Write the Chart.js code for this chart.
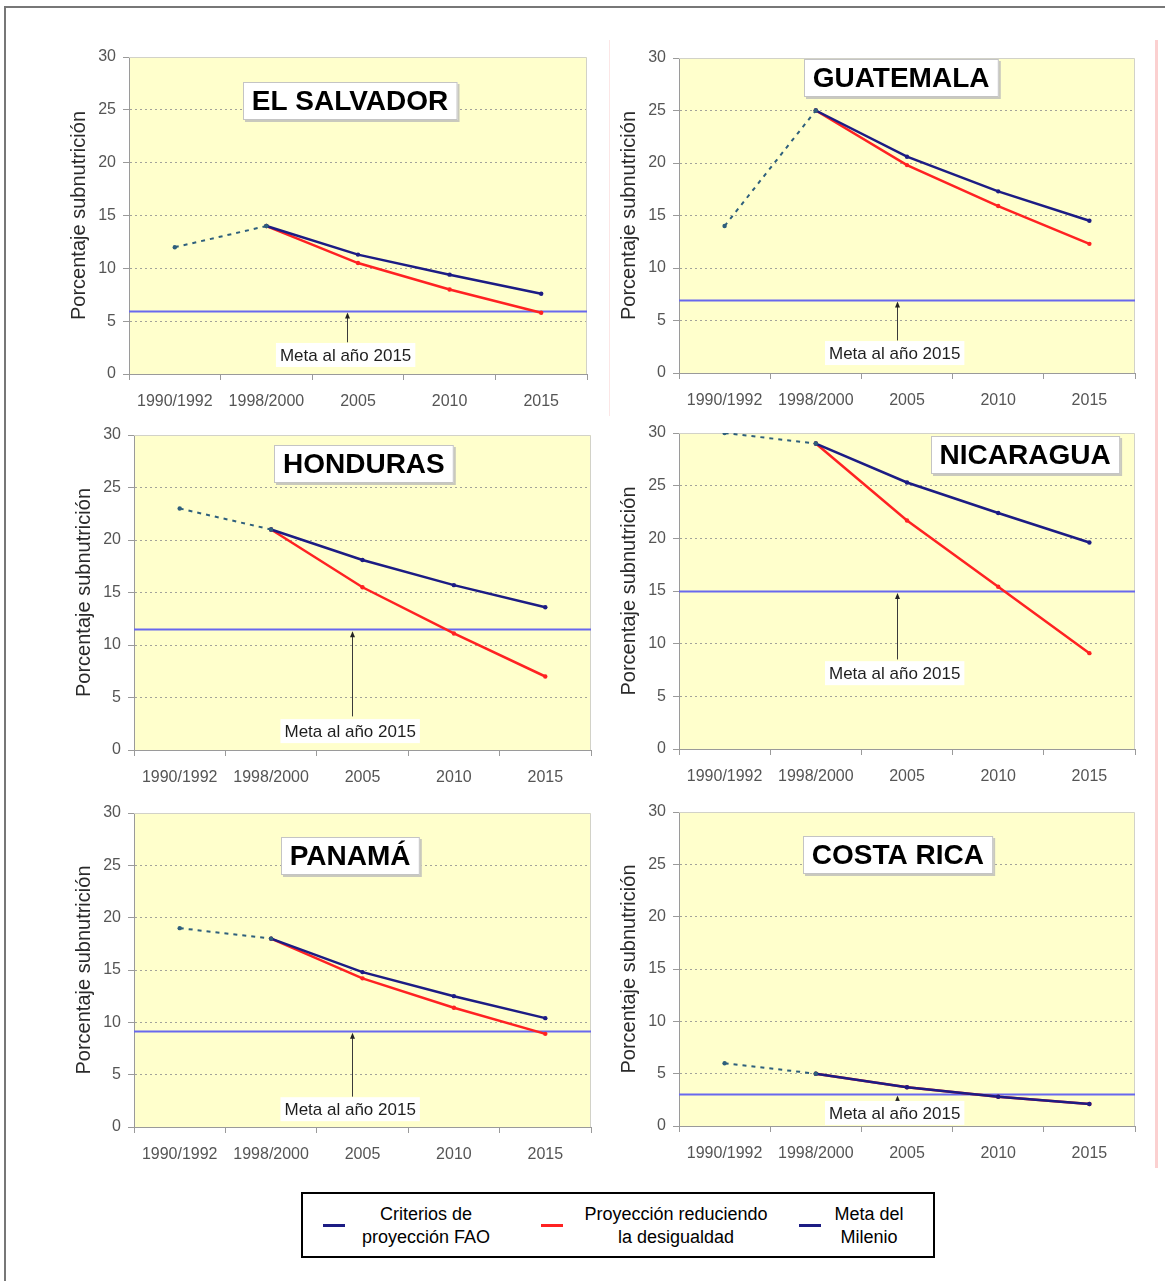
<!DOCTYPE html>
<html>
<head>
<meta charset="utf-8">
<title>Subnutrición en Centroamérica</title>
<script src="https://cdn.jsdelivr.net/npm/chart.js@4.4.1/dist/chart.umd.min.js"></script>
<style>
  html, body { margin: 0; padding: 0; background: #fff; width: 1165px; height: 1281px; overflow: hidden; }
  #frame { position: absolute; left: 4px; top: 6px; width: 1400px; height: 1500px; border: 2px solid #777; box-sizing: border-box; }
  #pinkRule { position: absolute; left: 1155px; top: 40px; width: 3px; height: 1128px; background: #fbd0d0; }
  #pinkRule2 { position: absolute; left: 609px; top: 40px; width: 1px; height: 376px; background: #fbe6e6; }
  .panel { position: absolute; }
  .panel canvas { display: block; }
  #legend { position: absolute; left: 301px; top: 1192px; width: 634px; height: 66px; border: 2px solid #000; box-sizing: border-box; background: #fff;
            font-family: "Liberation Sans", Arial, sans-serif; font-size: 18px; color: #000; }
  #legend .sw { position: absolute; top: 30px; width: 22px; height: 3px; }
  #legend .lt { position: absolute; top: 9px; width: 200px; text-align: center; line-height: 23px; }
</style>
</head>
<body>
<div id="frame"></div>
<div id="pinkRule"></div>
<div id="pinkRule2"></div>
<div id="panels"></div>
<div id="legend"></div>

<script>
// ---- data -------------------------------------------------------------
const categories = ['1990/1992', '1998/2000', '2005', '2010', '2015'];
const yTicks = [0, 5, 10, 15, 20, 25, 30];
const countries = ['EL SALVADOR', 'GUATEMALA', 'HONDURAS', 'NICARAGUA', 'PANAMÁ', 'COSTA RICA'];

// observed prevalence 1990/1992 -> 1998/2000 (dotted segment)
const observed = [
  [12, 14, null, null, null],
  [14, 25, null, null, null],
  [23, 21, null, null, null],
  [30, 29, null, null, null],
  [19, 18, null, null, null],
  [6, 5, null, null, null]
];
// projection with FAO criteria
const faoProjection = [
  [null, 14, 11.3, 9.4, 7.6],
  [null, 25, 20.6, 17.3, 14.5],
  [null, 21, 18.1, 15.7, 13.6],
  [null, 29, 25.3, 22.4, 19.6],
  [null, 18, 14.8, 12.5, 10.4],
  [null, 5, 3.7, 2.8, 2.1]
];
// projection reducing inequality
const equityProjection = [
  [null, 14, 10.5, 8.0, 5.8],
  [null, 25, 19.8, 15.9, 12.3],
  [null, 21, 15.5, 11.1, 7.0],
  [null, 29, 21.7, 15.4, 9.1],
  [null, 18, 14.2, 11.4, 8.9],
  [null, 5, 3.7, 2.8, 2.1]
];
// Millennium goal for 2015
const milleniumGoal = [6, 7, 11.5, 15, 9.2, 3.1];

const legendLabels = ['Criterios de<br>proyección FAO', 'Proyección reduciendo<br>la desigualdad', 'Meta del<br>Milenio'];
const yAxisTitle = 'Porcentaje subnutrición';
const goalLabel = 'Meta al año 2015';

// ---- layout -----------------------------------------------------------
// plot rectangles (left, top, right, bottom) of the six panels
const plotRects = [
  [129, 57, 587, 374],
  [679, 58, 1135, 373],
  [134, 435, 591, 750],
  [679, 433, 1135, 749],
  [134, 813, 591, 1127],
  [679, 812, 1135, 1126]
];
// title box centre: fraction of plot width, and height in axis units
const titleFx = [0.4825, 0.487, 0.503, 0.759, 0.473, 0.48];
const titleAt = [25.8, 28.05, 27.2, 27.9, 25.9, 25.9];
// goal annotation: arrow foot and label centre, in axis units
const arrowFoot = [3.0, 3.1, 3.2, 8.5, 2.9, 2.4];
const labelAt = [1.8, 1.9, 1.8, 7.2, 1.7, 1.25];
const arrowFx = 0.477;
const labelFx = 0.473;

const AXIS_W = 75, AXIS_H = 45, PAD_T = 25, PAD_R = 15;
const FONT = '"Liberation Sans", Arial, sans-serif';

const COL_FAO = '#1c1c84';
const COL_EQ = '#ff2222';
const COL_OBS = '#2e5f7c';
const COL_GOAL = '#6868ee';
const PLOT_BG = '#ffffcc';

// plot background, goal line, title box and goal annotation
const panelDecor = {
  id: 'panelDecor',
  beforeDraw(chart, args, o) {
    const { ctx, chartArea: a } = chart;
    ctx.save();
    ctx.fillStyle = PLOT_BG;
    ctx.fillRect(a.left, a.top, a.right - a.left, a.bottom - a.top);
    ctx.restore();
  },
  beforeDatasetsDraw(chart, args, o) {
    const { ctx, chartArea: a } = chart;
    const y = chart.scales.y;
    ctx.save();
    // faint frame of the plot area
    ctx.strokeStyle = '#d2d2c8';
    ctx.lineWidth = 1;
    ctx.beginPath();
    ctx.moveTo(a.left, a.top + 0.5);
    ctx.lineTo(a.right - 0.5, a.top + 0.5);
    ctx.lineTo(a.right - 0.5, a.bottom);
    ctx.stroke();
    // goal line
    const gy = Math.round(y.getPixelForValue(o.goal)) + 0.5;
    ctx.strokeStyle = COL_GOAL;
    ctx.lineWidth = 2;
    ctx.beginPath();
    ctx.moveTo(a.left, gy);
    ctx.lineTo(a.right, gy);
    ctx.stroke();
    ctx.restore();
  },
  afterDatasetsDraw(chart, args, o) {
    const { ctx, chartArea: a } = chart;
    const y = chart.scales.y;
    const w = a.right - a.left;
    ctx.save();

    // arrow pointing at the goal line
    const ax = Math.round(a.left + arrowFx * w) + 0.5;
    const tip = y.getPixelForValue(o.goal) + 2;
    const foot = y.getPixelForValue(o.arrowFoot);
    ctx.strokeStyle = '#3a3a3a';
    ctx.fillStyle = '#222';
    ctx.lineWidth = 1;
    ctx.beginPath();
    ctx.moveTo(ax, foot);
    ctx.lineTo(ax, tip + 4);
    ctx.stroke();
    ctx.beginPath();
    ctx.moveTo(ax, tip);
    ctx.lineTo(ax - 2.5, tip + 6);
    ctx.lineTo(ax + 2.5, tip + 6);
    ctx.closePath();
    ctx.fill();

    // goal label
    ctx.font = '17px ' + FONT;
    const lw = ctx.measureText(goalLabel).width;
    const lx = a.left + labelFx * w;
    const ly = y.getPixelForValue(o.labelAt);
    ctx.fillStyle = '#fff';
    ctx.fillRect(lx - lw / 2 - 4, ly - 12, lw + 8, 24);
    ctx.fillStyle = '#1e1e1e';
    ctx.textAlign = 'center';
    ctx.textBaseline = 'middle';
    ctx.fillText(goalLabel, lx, ly + 1);

    // country title box
    ctx.font = 'bold 28px ' + FONT;
    const tw = ctx.measureText(o.title).width;
    const tx = a.left + o.titleFx * w;
    const ty = y.getPixelForValue(o.titleAt);
    const bw = tw + 18, bh = 38;
    const bx = Math.round(tx - bw / 2), by = Math.round(ty - bh / 2);
    ctx.fillStyle = '#c9c9bd';
    ctx.fillRect(bx + 2, by + 2, bw, bh);
    ctx.fillStyle = '#fff';
    ctx.fillRect(bx, by, bw, bh);
    ctx.strokeStyle = '#c4c4c4';
    ctx.lineWidth = 1;
    ctx.strokeRect(bx + 0.5, by + 0.5, bw - 1, bh - 1);
    ctx.fillStyle = '#000';
    ctx.fillText(o.title, tx, ty + 1);
    ctx.restore();
  }
};

function makePanel(i) {
  const [L, T, R, B] = plotRects[i];
  const left = L - AXIS_W, top = T - PAD_T;
  const width = (R - L) + AXIS_W + PAD_R;
  const height = (B - T) + PAD_T + AXIS_H;

  const holder = document.createElement('div');
  holder.className = 'panel';
  holder.style.left = left + 'px';
  holder.style.top = top + 'px';
  holder.style.width = width + 'px';
  holder.style.height = height + 'px';
  const canvas = document.createElement('canvas');
  canvas.width = width;
  canvas.height = height;
  holder.appendChild(canvas);
  document.getElementById('panels').appendChild(holder);

  const tickFont = { family: FONT, size: 16 };

  return new Chart(canvas, {
    type: 'line',
    data: {
      labels: categories,
      datasets: [
        {
          label: 'Observado',
          data: observed[i],
          borderColor: COL_OBS,
          backgroundColor: COL_OBS,
          borderWidth: 2,
          borderDash: [4, 5],
          pointRadius: 2.2,
          pointBorderWidth: 0,
          tension: 0,
          spanGaps: false
        },
        {
          label: 'Criterios de proyección FAO',
          data: faoProjection[i],
          borderColor: COL_FAO,
          backgroundColor: COL_FAO,
          borderWidth: 2.5,
          pointRadius: 2.2,
          pointBorderWidth: 0,
          tension: 0
        },
        {
          label: 'Proyección reduciendo la desigualdad',
          data: equityProjection[i],
          borderColor: COL_EQ,
          backgroundColor: COL_EQ,
          borderWidth: 2.5,
          pointRadius: 2.2,
          pointBorderWidth: 0,
          tension: 0
        }
      ]
    },
    options: {
      responsive: false,
      animation: false,
      devicePixelRatio: 1,
      layout: { padding: { top: PAD_T, right: PAD_R, left: 0, bottom: 0 } },
      plugins: {
        legend: { display: false },
        tooltip: { enabled: false },
        panelDecor: {
          goal: milleniumGoal[i],
          title: countries[i],
          titleFx: titleFx[i],
          titleAt: titleAt[i],
          arrowFoot: arrowFoot[i],
          labelAt: labelAt[i]
        }
      },
      scales: {
        x: {
          type: 'category',
          offset: true,
          grid: {
            offset: true,
            drawOnChartArea: false,
            drawTicks: true,
            tickLength: 6,
            tickColor: '#9a9a9a',
            tickWidth: 1
          },
          border: { display: true, color: '#9a9a9a', width: 1 },
          ticks: { font: tickFont, color: '#555', padding: 12, maxRotation: 0, minRotation: 0, autoSkip: false },
          afterFit(s) { s.height = AXIS_H; }
        },
        y: {
          min: yTicks[0],
          max: yTicks[yTicks.length - 1],
          afterBuildTicks(s) { s.ticks = yTicks.map(v => ({ value: v })); },
          grid: {
            color: c => (c.tick && (c.tick.value === yTicks[0] || c.tick.value === yTicks[yTicks.length - 1])) ? 'rgba(0,0,0,0)' : '#a3a39a',
            lineWidth: 1,
            drawTicks: true,
            tickLength: 6,
            tickColor: '#9a9a9a',
            tickWidth: 1,
            tickBorderDash: []
          },
          border: { display: true, color: '#9a9a9a', width: 1, dash: [2, 3] },
          ticks: { font: tickFont, color: '#555', padding: 7 },
          title: {
            display: true,
            text: yAxisTitle,
            font: { family: FONT, size: 20 },
            color: '#2a2a2a',
            padding: { top: 13, bottom: 0 }
          },
          afterFit(s) { s.width = AXIS_W; }
        }
      }
    },
    plugins: [panelDecor]
  });
}

countries.forEach((_, i) => makePanel(i));

// legend
const legendColours = [COL_FAO, COL_EQ, COL_FAO];
const swatchLeft = [20, 238, 496];
const textCentre = [123, 373, 566];
const legend = document.getElementById('legend');
legendLabels.forEach((txt, k) => {
  const sw = document.createElement('div');
  sw.className = 'sw';
  sw.style.left = swatchLeft[k] + 'px';
  sw.style.background = legendColours[k];
  legend.appendChild(sw);
  const lt = document.createElement('div');
  lt.className = 'lt';
  lt.style.left = (textCentre[k] - 100) + 'px';
  lt.innerHTML = txt;
  legend.appendChild(lt);
});
</script>
</body>
</html>
